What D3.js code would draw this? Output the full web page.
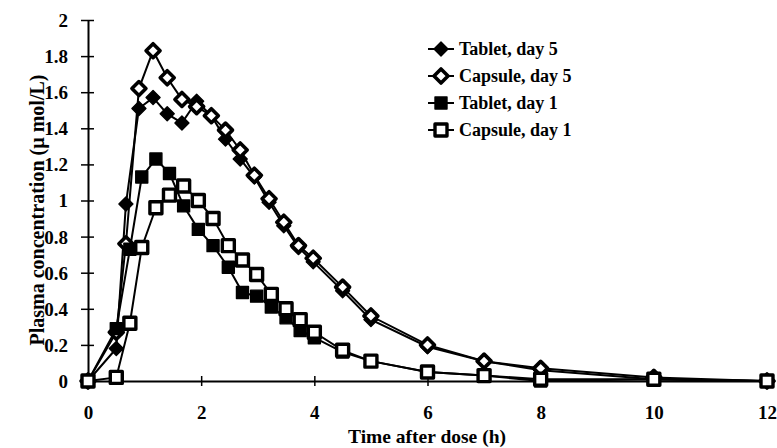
<!DOCTYPE html>
<html>
<head>
<meta charset="utf-8">
<script src="https://cdn.jsdelivr.net/npm/d3@7"></script>
<style>
  html, body { margin: 0; padding: 0; background: #fff; }
  svg { display: block; }
  text { font-family: "Liberation Serif", "Times New Roman", serif; font-weight: bold; fill: #000; }
</style>
</head>
<body>
<svg id="chart" width="777" height="448"></svg>
<script>
// Sampling times (h)
const timesDay5 = [0, 0.5, 0.67, 0.9, 1.15, 1.4, 1.66, 1.92, 2.18, 2.43, 2.69, 2.94, 3.2, 3.46, 3.72, 3.98, 4.5, 5, 6, 7, 8, 10, 12];
const timesDay1 = [0, 0.5, 0.74, 0.95, 1.2, 1.44, 1.69, 1.95, 2.21, 2.48, 2.73, 2.98, 3.24, 3.5, 3.75, 4, 4.5, 5, 6, 7, 8, 10, 12];

// Plasma concentrations (µmol/L)
const tabletDay5  = [0, 0.18, 0.98, 1.51, 1.57, 1.48, 1.43, 1.55, 1.47, 1.34, 1.23, 1.13, 0.99, 0.86, 0.74, 0.66, 0.50, 0.34, 0.19, 0.11, 0.06, 0.01, 0.00];
const capsuleDay5 = [0, 0.27, 0.76, 1.62, 1.83, 1.68, 1.56, 1.52, 1.47, 1.39, 1.28, 1.14, 1.01, 0.88, 0.75, 0.68, 0.52, 0.36, 0.20, 0.11, 0.07, 0.02, 0.00];
const tabletDay1  = [0, 0.29, 0.73, 1.13, 1.23, 1.15, 0.97, 0.84, 0.75, 0.63, 0.49, 0.47, 0.41, 0.35, 0.28, 0.24, 0.16, 0.11, 0.05, 0.03, 0.00, 0.01, 0.00];
const capsuleDay1 = [0, 0.02, 0.32, 0.74, 0.96, 1.03, 1.08, 1.00, 0.90, 0.75, 0.67, 0.59, 0.48, 0.40, 0.34, 0.27, 0.17, 0.11, 0.05, 0.03, 0.01, 0.01, 0.00];

const seriesNames = ["Tablet, day 5", "Capsule, day 5", "Tablet, day 1", "Capsule, day 1"];
const xTicks = [0, 2, 4, 6, 8, 10, 12];
const yTicks = [0, 0.2, 0.4, 0.6, 0.8, 1, 1.2, 1.4, 1.6, 1.8, 2];

const series = [
  { name: seriesNames[0], t: timesDay5, v: tabletDay5,  shape: "diamond", open: false },
  { name: seriesNames[1], t: timesDay5, v: capsuleDay5, shape: "diamond", open: true },
  { name: seriesNames[2], t: timesDay1, v: tabletDay1,  shape: "square",  open: false },
  { name: seriesNames[3], t: timesDay1, v: capsuleDay1, shape: "square",  open: true }
];

const svg = d3.select("#chart");
const x = d3.scaleLinear().domain([0, 12]).range([88, 767]);
const y = d3.scaleLinear().domain([0, 2]).range([381, 20]);

// marker outlines
function markerPath(shape) {
  if (shape === "diamond") {
    const r = 7;
    return `M0,${-r}L${r},0L0,${r}L${-r},0Z`;
  }
  const h = 6;
  return `M${-h},${-h}H${h}V${h}H${-h}Z`;
}

function drawMarker(g, s) {
  g.append("path")
    .attr("d", markerPath(s.shape))
    .attr("fill", s.open ? "#fff" : "#000")
    .attr("stroke", "#000")
    .attr("stroke-linejoin", "round")
    .attr("stroke-width", s.open ? (s.shape === "diamond" ? 3.6 : 3.4) : 1.4);
}

// axes
const xAxis = svg.append("g")
  .attr("transform", `translate(0,${y(0)})`)
  .call(d3.axisBottom(x).tickValues(xTicks).tickFormat(d3.format("d")).tickSizeOuter(0));
xAxis.select(".domain").attr("stroke", "#000").attr("stroke-width", 2);
xAxis.selectAll(".tick line").attr("y1", -5).attr("y2", 5).attr("stroke-width", 1.5);
xAxis.selectAll(".tick text").attr("y", 0).attr("dy", "38px").style("font-size", "19px");

const yAxis = svg.append("g")
  .attr("transform", `translate(${x(0)},0)`)
  .call(d3.axisLeft(y).tickValues(yTicks).tickFormat(d3.format("~g")).tickSizeOuter(0));
yAxis.select(".domain").attr("stroke", "#000").attr("stroke-width", 2);
yAxis.selectAll(".tick line").attr("x1", -7).attr("x2", 6).attr("stroke-width", 1.5);
yAxis.selectAll(".tick text").attr("x", -20).attr("dy", "0.34em").style("font-size", "19px");

// axis titles
svg.append("text")
  .attr("x", 427).attr("y", 443)
  .attr("text-anchor", "middle")
  .style("font-size", "19.5px")
  .text("Time after dose (h)");

svg.append("text")
  .attr("transform", `translate(44,210) rotate(-90)`)
  .attr("text-anchor", "middle")
  .style("font-size", "20px")
  .text("Plasma concentration (\u00b5 mol/L)");

// series lines and markers
const line = d3.line().x(d => x(d[0])).y(d => y(d[1]));
series.forEach(s => {
  const pts = s.t.map((t, i) => [t, s.v[i]]);
  svg.append("path")
    .datum(pts)
    .attr("d", line)
    .attr("fill", "none")
    .attr("stroke", "#000")
    .attr("stroke-width", 2);
});
series.forEach(s => {
  const pts = s.t.map((t, i) => [t, s.v[i]]);
  pts.forEach(p => {
    const g = svg.append("g").attr("transform", `translate(${x(p[0])},${y(p[1])})`);
    drawMarker(g, s);
  });
});

// legend
const legendRows = [49, 76, 103, 130];
series.forEach((s, i) => {
  const g = svg.append("g").attr("transform", `translate(441,${legendRows[i]})`);
  g.append("line").attr("x1", -13).attr("x2", 13).attr("stroke", "#000").attr("stroke-width", 2);
  drawMarker(g, s);
  g.append("text")
    .attr("x", 18).attr("dy", "0.35em")
    .style("font-size", "18px")
    .text(s.name);
});
</script>
</body>
</html>
